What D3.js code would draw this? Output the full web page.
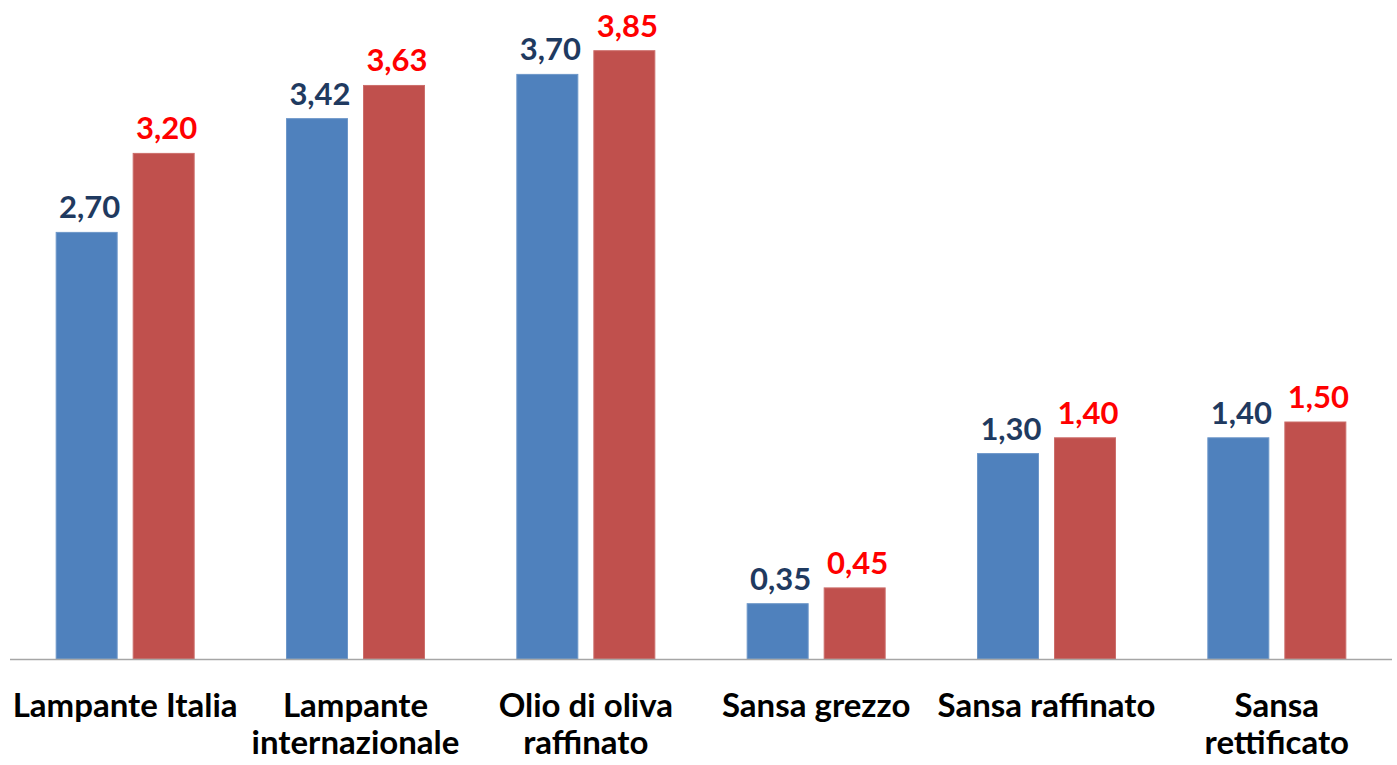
<!DOCTYPE html>
<html>
<head>
<meta charset="utf-8">
<script src="https://cdn.jsdelivr.net/npm/d3@7"></script>
<style>
	body { margin: 0; background: #fff; }
	text { font-family: Lato, "Open Sans", sans-serif; font-weight: bold; }
</style>
</head>
<body>
<div id="graph"></div>
<script>
var categories = [
		["Lampante Italia"],
		["Lampante", "internazionale"],
		["Olio di oliva", "raffinato"],
		["Sansa grezzo"],
		["Sansa raffinato"],
		["Sansa", "rettificato"]
	],
	seriesA = [2.70, 3.42, 3.70, 0.35, 1.30, 1.40],
	seriesB = [3.20, 3.63, 3.85, 0.45, 1.40, 1.50];

var width = 1397,
	height = 765,
	margin = {top: 27, right: 5, bottom: 106, left: 10};

var svg = d3.select('div#graph')
	.append('svg')
	.attr('width', width)
	.attr('height', height)
	.style('background', '#fff');

var x = d3.scaleBand()
	.domain(d3.range(categories.length))
	.range([margin.left, width - margin.right])
	.padding(0);

var inner = d3.scaleBand()
	.domain(["A", "B"])
	.range([0, 138])
	.paddingInner(0.208);

var y = d3.scaleLinear()
	.domain([0, 4])
	.range([height - margin.bottom, margin.top]);

var fmt = function(v){ return d3.format(".2f")(v).replace(".", ","); };

var data = categories.map(function(c, i){
	return {i: i, A: seriesA[i], B: seriesB[i]};
});

var series = [
	{key: "A", fill: "#4F81BD", stroke: "#6d97c9", label: "#1F3A60"},
	{key: "B", fill: "#C0504D", stroke: "#cc6e6b", label: "#FF0000"}
];

var groups = svg.append("g").attr("class", "bars")
	.selectAll("g")
	.data(data).enter()
	.append("g")
	.attr("transform", function(d){ return "translate(" + (x(d.i) + (x.bandwidth() - 138) / 2) + ",0)"; });

series.forEach(function(s){
	groups.append("rect")
		.attr("x", inner(s.key))
		.attr("y", function(d){ return y(d[s.key]); })
		.attr("width", inner.bandwidth())
		.attr("height", function(d){ return y(0) - y(d[s.key]); })
		.attr("fill", s.fill)
		.attr("stroke", s.stroke)
		.attr("stroke-width", 1);

	groups.append("text")
		.attr("x", inner(s.key) + inner.bandwidth() / 2 + 3)
		.attr("y", function(d){ return y(d[s.key]) - 14; })
		.attr("text-anchor", "middle")
		.attr("font-size", "31px")
		.attr("fill", s.label)
		.text(function(d){ return fmt(d[s.key]); });
});

// baseline
svg.append("line")
	.attr("x1", margin.left)
	.attr("x2", width - margin.right)
	.attr("y1", y(0) + 0.5)
	.attr("y2", y(0) + 0.5)
	.attr("stroke", "#a6a6a6")
	.attr("stroke-width", 1.5);

// category labels
var labels = svg.append("g").attr("class", "cat-labels")
	.selectAll("text")
	.data(categories).enter()
	.append("text")
	.attr("x", function(d, i){ return x(i) + x.bandwidth() / 2; })
	.attr("y", 717)
	.attr("text-anchor", "middle")
	.attr("font-size", "33px")
	.attr("fill", "#000");

labels.selectAll("tspan")
	.data(function(d){ return d; }).enter()
	.append("tspan")
	.attr("x", function(){ return d3.select(this.parentNode).attr("x"); })
	.attr("dy", function(d, i){ return i ? 37 : 0; })
	.text(function(d){ return d; });
</script>
</body>
</html>
